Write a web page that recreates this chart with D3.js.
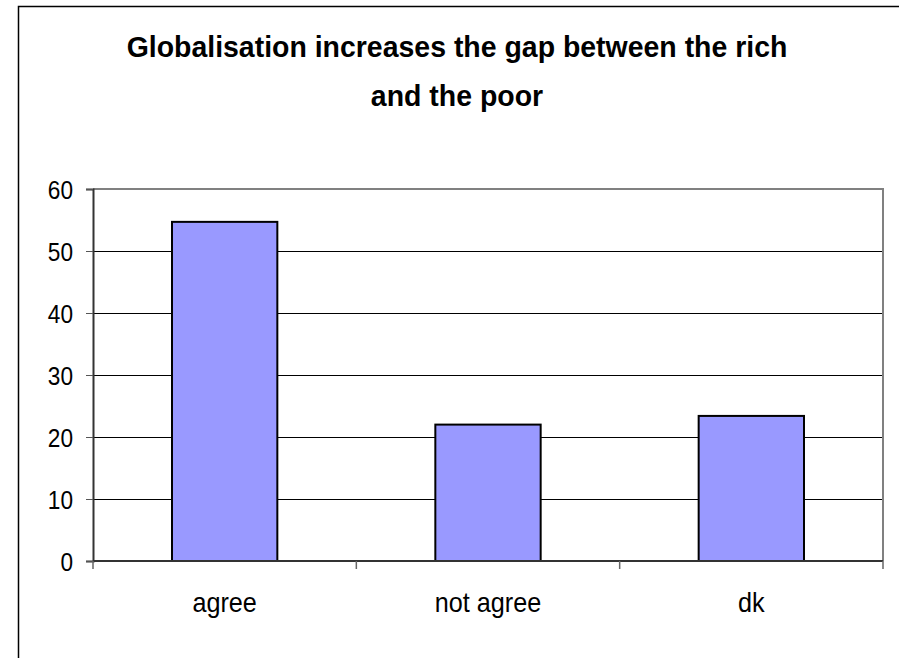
<!DOCTYPE html>
<html lang="en">
<head>
  <meta charset="UTF-8">
  <title>Globalisation increases the gap between the rich and the poor</title>
  <script src="https://d3js.org/d3.v7.min.js"></script>
  <style>
    body {
      margin: 0;
      padding: 0;
      background: #fff;
    }
    svg text {
      font-family: 'Liberation Sans', Arial, sans-serif;
      fill: #000;
    }
  </style>
</head>
<body>
  <div id="chart"></div>

  <script>
    const categories = ["agree", "not agree", "dk"];
    const values = [54.7, 22.0, 23.4];
    const yTicks = [0, 10, 20, 30, 40, 50, 60];
    const titleLines = ["Globalisation increases the gap between the rich", "and the poor"];

    const W = 899, H = 658;
    // plot area in page pixels
    const plot = { left: 93, right: 883, top: 189, bottom: 561 };

    const svg = d3.select("#chart")
      .append("svg")
      .attr("width", W)
      .attr("height", H);

    // outer chart border (right and bottom fall outside the picture)
    svg.append("rect")
      .attr("x", 18.5)
      .attr("y", 6.5)
      .attr("width", 900)
      .attr("height", 700)
      .attr("fill", "#fff")
      .attr("stroke", "#000")
      .attr("stroke-width", 1.5);

    const x = d3.scaleBand()
      .domain(categories)
      .range([plot.left, plot.right])
      .paddingInner(0)
      .paddingOuter(0);

    const y = d3.scaleLinear()
      .domain([0, 60])
      .range([plot.bottom, plot.top]);

    // horizontal gridlines
    svg.append("g")
      .selectAll("line")
      .data(yTicks.filter(d => d > 0 && d < 60))
      .enter()
      .append("line")
      .attr("x1", plot.left)
      .attr("x2", plot.right)
      .attr("y1", d => Math.round(y(d)) + 0.5)
      .attr("y2", d => Math.round(y(d)) + 0.5)
      .attr("stroke", "#000")
      .attr("stroke-width", 1);

    // plot area frame: top and right in grey
    svg.append("path")
      .attr("d", `M${plot.left},${plot.top}H${plot.right}V${plot.bottom}`)
      .attr("fill", "none")
      .attr("stroke", "#808080")
      .attr("stroke-width", 2);

    // bars, Excel style gap width 150%
    const barW = x.bandwidth() / 2.5;
    svg.append("g")
      .selectAll("rect")
      .data(categories)
      .enter()
      .append("rect")
      .attr("x", d => x(d) + (x.bandwidth() - barW) / 2)
      .attr("y", (d, i) => y(values[i]))
      .attr("width", barW)
      .attr("height", (d, i) => y(0) - y(values[i]))
      .attr("fill", "#9999ff")
      .attr("stroke", "#000")
      .attr("stroke-width", 2);

    // y axis
    const yAxis = svg.append("g")
      .attr("transform", `translate(${plot.left},0)`)
      .call(d3.axisLeft(y).tickValues(yTicks).tickSize(7).tickPadding(13).tickFormat(d3.format("d")));
    yAxis.select(".domain").attr("stroke", "#333").attr("stroke-width", 2);
    yAxis.selectAll(".tick line").attr("stroke", "#555");
    yAxis.selectAll(".tick text")
      .attr("font-size", 26)
      .attr("dy", "0.36em")
      .each(function () {
        const t = d3.select(this);
        const tx = +t.attr("x");
        t.attr("x", null).attr("transform", `translate(${tx},0) scale(0.87,1)`);
      });

    // x axis
    const xAxis = svg.append("g")
      .attr("transform", `translate(0,${plot.bottom})`);
    xAxis.append("line")
      .attr("x1", plot.left)
      .attr("x2", plot.right)
      .attr("stroke", "#333")
      .attr("stroke-width", 2);
    const bounds = categories.map(c => x(c)).concat([x.range()[1]]);
    xAxis.selectAll(".xtick")
      .data(bounds)
      .enter()
      .append("line")
      .attr("class", "xtick")
      .attr("x1", d => d)
      .attr("x2", d => d)
      .attr("y1", 0)
      .attr("y2", 8)
      .attr("stroke", "#666")
      .attr("stroke-width", 1.5);
    xAxis.selectAll(".xlabel")
      .data(categories)
      .enter()
      .append("text")
      .attr("class", "xlabel")
      .attr("transform", d => `translate(${x(d) + x.bandwidth() / 2},51) scale(0.9,1)`)
      .attr("text-anchor", "middle")
      .attr("font-size", 28)
      .text(d => d);

    // title, condensed to the width seen in the picture
    const title = svg.append("g");
    const titleText = title.selectAll("text")
      .data(titleLines)
      .enter()
      .append("text")
      .attr("text-anchor", "middle")
      .attr("font-size", 29)
      .attr("font-weight", "bold")
      .text(d => d);
    const natural = titleText.node().getComputedTextLength();
    const sx = 661 / natural;
    titleText.attr("transform", (d, i) => `translate(457,${57 + i * 49}) scale(${sx},1)`);
  </script>
</body>
</html>
